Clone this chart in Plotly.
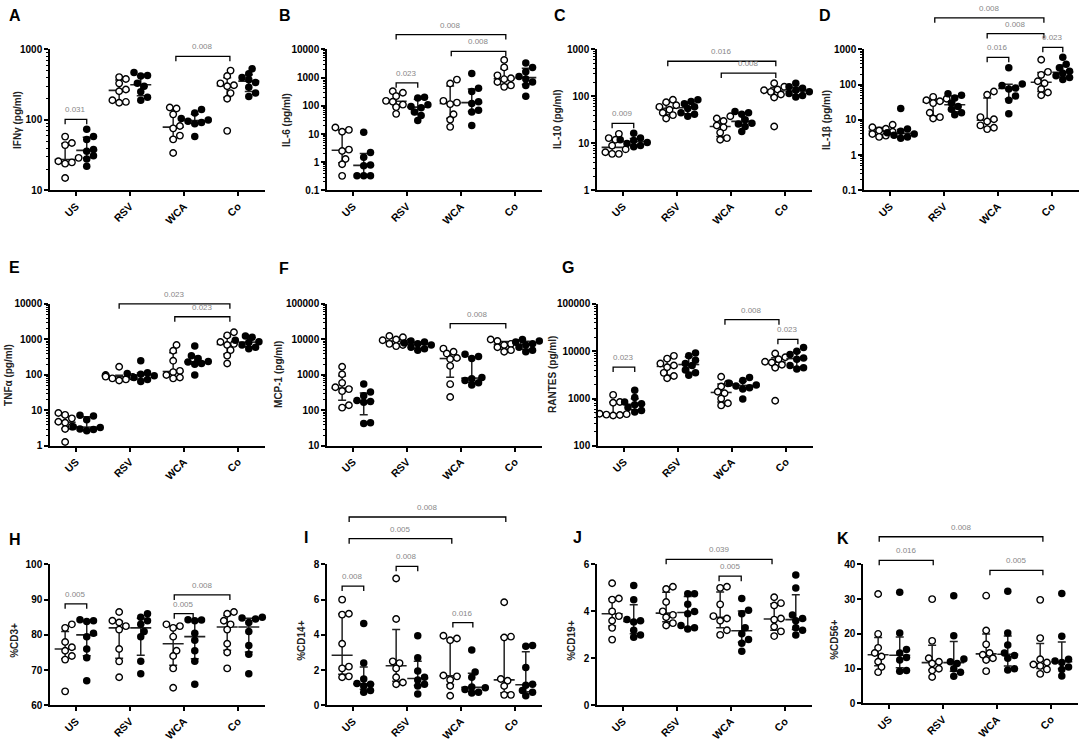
import numpy as np
import plotly.graph_objects as go

W, H = 1084, 743
groups = ["US", "RSV", "WCA", "Co"]

# each list: [US, RSV, WCA, Co], open = first condition, filled = second condition
ifng_open = [[58, 47, 44, 29, 26, 25, 24, 15], [405, 380, 330, 270, 255, 190, 180, 175],
             [150, 145, 120, 82, 76, 60, 53, 34], [500, 420, 330, 310, 300, 240, 200, 70]]
ifng_filled = [[74, 58, 53, 38, 36, 31, 28, 22], [470, 425, 420, 330, 300, 250, 210, 190],
               [140, 125, 105, 100, 96, 92, 88, 58], [530, 450, 400, 370, 340, 290, 240, 215]]

il6_open = [[17, 14, 12, 2.8, 2.5, 1.3, 0.85, 0.33], [330, 290, 220, 150, 140, 110, 90, 52],
            [850, 620, 150, 130, 115, 50, 32, 18], [4200, 2300, 1200, 950, 880, 700, 530, 470]]
il6_filled = [[11.5, 2.2, 1.5, 0.8, 0.75, 0.33, 0.33, 0.33], [200, 190, 110, 95, 85, 60, 45, 30],
              [1400, 420, 320, 140, 120, 70, 60, 20], [3300, 2300, 1600, 1100, 900, 700, 520, 220]]

il10_open = [[16, 13, 12, 9, 7.5, 6.5, 6, 6], [85, 75, 65, 60, 52, 45, 40, 34],
             [38, 34, 30, 24, 22, 17, 13, 12], [190, 160, 140, 135, 125, 110, 95, 23]]
il10_filled = [[16.5, 13, 12, 11.5, 10.5, 10, 9, 8.5], [85, 78, 70, 60, 55, 45, 42, 38],
               [48, 45, 42, 32, 27, 26, 23, 18], [190, 160, 150, 135, 125, 115, 105, 97]]

il1b_open = [[7.3, 6.2, 5.6, 5, 4.6, 4, 3.6, 3.3], [45, 40, 36, 34, 30, 16, 12, 11],
             [64, 52, 12, 10.5, 9, 7, 6, 5.5], [510, 230, 190, 125, 110, 75, 60, 50]]
il1b_filled = [[21, 5.5, 4.8, 4.3, 4, 3.7, 3.3, 3], [55, 50, 42, 30, 24, 20, 16, 14],
               [300, 105, 95, 80, 75, 48, 36, 15], [600, 380, 300, 240, 210, 180, 160, 140]]

tnfa_open = [[8.5, 7.5, 6, 4.8, 4.5, 3.5, 3, 1.3], [170, 100, 95, 90, 88, 80, 75, 70],
             [700, 480, 250, 130, 120, 100, 85, 80], [1600, 1300, 850, 750, 700, 500, 350, 210]]
tnfa_filled = [[7.3, 7, 5.5, 3.5, 3.3, 3, 2.9, 2.7], [250, 115, 110, 105, 95, 85, 75, 65],
               [650, 350, 290, 240, 230, 210, 200, 100], [1250, 1150, 950, 860, 820, 700, 600, 550]]

mcp1_open = [[1700, 1050, 600, 450, 400, 350, 140, 120], [12500, 11500, 10000, 9500, 8500, 7500, 7000, 6500],
             [5500, 4500, 4000, 3000, 2800, 1800, 550, 240], [10000, 9000, 8000, 7500, 7000, 6000, 5000, 4500]]
mcp1_filled = [[560, 330, 260, 190, 180, 170, 45, 43], [9000, 8500, 8000, 7500, 7000, 6000, 5500, 5000],
               [3800, 3300, 2900, 850, 780, 700, 600, 520], [10000, 9000, 8500, 7500, 7000, 6000, 5000, 4500]]

rantes_open = [[1200, 850, 820, 480, 470, 460, 450, 440], [8000, 7000, 5500, 5000, 4600, 3500, 3000, 2700],
               [2900, 2100, 1800, 1400, 1300, 1000, 800, 720], [9000, 7500, 6800, 6000, 5800, 5200, 4500, 900]]
rantes_filled = [[1500, 1050, 850, 780, 740, 650, 560, 520], [9200, 8000, 6500, 5500, 5000, 4000, 3500, 3100],
                 [2800, 2400, 2100, 1950, 1850, 1700, 1600, 980], [12000, 10000, 8500, 7200, 6800, 5000, 4500, 4200]]

cd3_open = [[83, 82, 78, 76.5, 75.5, 74, 73, 64], [86.5, 84, 83.5, 82.5, 81.5, 76, 72.5, 68],
            [83, 82.5, 82, 79.5, 75.5, 74, 70.5, 65], [86.5, 86, 84, 83, 81.5, 77.5, 75, 70.5]]
cd3_filled = [[84.3, 84, 83.8, 80.5, 79.5, 76, 73.5, 67], [86, 85, 84, 83, 81, 79.5, 72.5, 69],
              [84.3, 84.2, 84, 80.5, 78.5, 75.5, 72.5, 66], [85, 84.8, 84.5, 83.5, 81, 77, 74.5, 69]]

cd14_open = [[6, 5.2, 5.15, 3.5, 2.2, 2.1, 1.65, 1.6], [7.2, 4.9, 2.5, 2.4, 2.1, 1.6, 1.3, 1.2],
             [3.95, 3.8, 3.7, 1.7, 1.65, 1.45, 1.1, 0.55], [5.85, 3.9, 3.85, 1.5, 1.4, 1.1, 0.6, 0.6]]
cd14_filled = [[4.65, 2.4, 1.5, 1.25, 1.2, 1.1, 0.85, 0.75], [3.95, 2.7, 1.95, 1.6, 1.45, 1.2, 1.1, 0.65],
               [3.15, 1.9, 1.6, 1.05, 1.0, 0.9, 0.75, 0.7], [3.4, 3.35, 2.15, 1.2, 1.15, 0.85, 0.75, 0.55]]

cd19_open = [[5.2, 4.55, 4.5, 4.0, 3.8, 3.6, 3.3, 2.8], [5.05, 4.95, 4.4, 4.0, 3.85, 3.75, 3.5, 3.4],
             [5.05, 5.0, 4.3, 3.8, 3.7, 3.6, 3.2, 3.0], [4.6, 4.35, 4.25, 3.7, 3.65, 3.35, 3.15, 2.95]]
cd19_filled = [[5.1, 4.5, 3.65, 3.6, 3.55, 3.2, 3.0, 2.9], [4.75, 4.75, 4.3, 4.0, 3.9, 3.4, 3.3, 3.25],
               [4.55, 4.05, 3.9, 3.3, 3.05, 2.8, 2.65, 2.3], [5.55, 5.0, 3.85, 3.7, 3.6, 3.3, 3.2, 3.0]]

cd56_open = [[31.5, 20, 16, 14.5, 13.5, 12, 10.5, 9], [30, 18, 13, 12, 11.5, 10, 9.5, 7.6],
             [31, 21, 17, 14.5, 14, 13, 12.5, 9.3], [29.8, 18.8, 12.7, 11.8, 11.2, 10.8, 9.8, 8.5]]
cd56_filled = [[32, 20.3, 15.5, 14.5, 13.2, 12.5, 9.5, 9.3], [31, 19.5, 12.8, 12, 11.5, 10, 9, 7.8],
               [32.3, 20.3, 16.8, 14.5, 13.8, 13, 10, 9.6], [31.6, 19.3, 12.7, 12.2, 11.8, 10.5, 9.8, 7.9]]

# panel layout: pixel boxes, axis setup and significance brackets (x0, x1, y px, label)
panels = [
    dict(letter="A", title="IFNγ (pg/ml)", o=ifng_open, f=ifng_filled, log=True, rng=(1, 3), left=50, top=45, bot=188,
         lab=(7, 11), tx=18, br=[(0.8, 1.2, 116, "0.031"), (2.85, 3.85, 52, "0.008")]),
    dict(letter="B", title="IL-6 (pg/ml)", o=il6_open, f=il6_filled, log=True, rng=(-1, 4), left=327, top=45, bot=188,
         lab=(277, 11), tx=287, br=[(1.8, 2.2, 79, "0.023"), (1.8, 3.83, 30, "0.008"), (2.82, 3.83, 47, "0.008")]),
    dict(letter="C", title="IL-10 (pg/ml)", o=il10_open, f=il10_filled, log=True, rng=(0, 3), left=597, top=45, bot=188,
         lab=(552, 11), tx=558, br=[(0.8, 1.2, 120, "0.009"), (1.83, 3.83, 57, "0.016"), (2.82, 3.83, 69, "0.008")]),
    dict(letter="D", title="IL-1β (pg/ml)", o=il1b_open, f=il1b_filled, log=True, rng=(-1, 3), left=864, top=45, bot=188,
         lab=(817, 11), tx=827, br=[(1.83, 3.85, 13, "0.008"), (2.8, 3.85, 29, "0.008"), (2.8, 3.2, 53, "0.016"),
                                    (3.83, 4.2, 43, "0.023")]),
    dict(letter="E", title="TNFα (pg/ml)", o=tnfa_open, f=tnfa_filled, log=True, rng=(0, 4), left=50, top=303, bot=447,
         lab=(7, 266), tx=9, br=[(1.8, 3.85, 303, "0.023"), (2.83, 3.85, 316, "0.023")]),
    dict(letter="F", title="MCP-1 (pg/ml)", o=mcp1_open, f=mcp1_filled, log=True, rng=(1, 5), left=327, top=303, bot=447,
         lab=(277, 267), tx=279, br=[(2.8, 3.83, 323, "0.008")]),
    dict(letter="G", title="RANTES (pg/ml)", o=rantes_open, f=rantes_filled, log=True, rng=(2, 5), left=598, top=303,
         bot=447, lab=(560, 266), tx=553,
         br=[(0.8, 1.2, 367, "0.023"), (2.87, 3.87, 319, "0.008"), (3.85, 4.22, 339, "0.023")]),
    dict(letter="H", title="%CD3+", o=cd3_open, f=cd3_filled, log=False, rng=(60, 100), dt=10, left=50, top=567, bot=710,
         lab=(7, 542), tx=15, br=[(0.8, 1.2, 607, "0.005"), (2.82, 3.85, 598, "0.008"), (2.82, 3.17, 617, "0.005")]),
    dict(letter="I", title="%CD14+", o=cd14_open, f=cd14_filled, log=False, rng=(0, 8), dt=2, left=327, top=567, bot=710,
         lab=(302, 540), tx=302, br=[(0.8, 1.2, 589, "0.008"), (1.8, 2.2, 569, "0.008"), (2.85, 3.22, 626, "0.016"),
                                     (0.93, 2.83, 541, "0.005"), (0.93, 3.83, 519, "0.008")]),
    dict(letter="J", title="%CD19+", o=cd19_open, f=cd19_filled, log=False, rng=(0, 6), dt=2, left=597, top=567, bot=710,
         lab=(571, 540), tx=572, br=[(1.8, 3.76, 562, "0.039"), (2.78, 3.19, 579, "0.005")]),
    dict(letter="K", title="%CD56+", o=cd56_open, f=cd56_filled, log=False, rng=(0, 40), dt=10, left=863, top=567,
         bot=708, lab=(835, 541), tx=835, br=[(0.82, 3.85, 539, "0.008"), (0.82, 1.82, 563, "0.016"),
                                              (2.87, 3.85, 573, "0.005")]),
]

FONT = "Liberation Sans, Arial, sans-serif"
XR = (0.52, 4.5)
AXW = 215
PX_PER_X = AXW / (XR[1] - XR[0])
MS = 6.5


def py(y):
    return 1 - y / H


def swarm(ypix, d=MS + 1):
    # simple beeswarm: nudge points sideways when they would sit on top of each other
    order = np.argsort(ypix)
    placed = []
    offs = np.zeros(len(ypix))
    cands = [0]
    for k in range(1, 5):
        cands += [k * 0.45 * d, -k * 0.45 * d]
    for i in order:
        best = cands[-1]
        for c in cands:
            if all((c - px) ** 2 + (ypix[i] - pyy) ** 2 >= (0.8 * d) ** 2 for px, pyy in placed):
                best = c
                break
        offs[i] = best
        placed.append((best, ypix[i]))
    return offs / PX_PER_X


def tick_text(v, log):
    if log and v < 1:
        return f"{v:.1f}"
    return f"{int(round(v))}"


fig = go.Figure()

for n, p in enumerate(panels, start=1):
    xa = "x" if n == 1 else f"x{n}"
    ya = "y" if n == 1 else f"y{n}"
    lo, hi = p["rng"]
    hpx = p["bot"] - p["top"]

    for cond, data, off in (("open", p["o"], -0.2), ("filled", p["f"], 0.2)):
        for g, vals in enumerate(data, start=1):
            vals = np.array(vals, dtype=float)
            xc = g + off
            med = np.median(vals)
            q1, q3 = np.percentile(vals, [25, 75], method="weibull")
            fig.add_trace(go.Scatter(
                x=[xc], y=[med], mode="markers", xaxis=xa, yaxis=ya, showlegend=False, hoverinfo="skip",
                marker=dict(symbol="line-ew", size=15, line=dict(color="#222", width=1.6)),
                error_y=dict(type="data", symmetric=False, array=[q3 - med], arrayminus=[med - q1],
                             width=4, thickness=1.5, color="#222")
            ))
            if p["log"]:
                ypix = (np.log10(vals) - lo) / (hi - lo) * hpx
            else:
                ypix = (vals - lo) / (hi - lo) * hpx
            xs = xc + swarm(ypix)
            if cond == "open":
                mk = dict(symbol="circle", size=MS, color="white", line=dict(color="black", width=1.4))
            else:
                mk = dict(symbol="circle", size=MS + 1, color="black", line=dict(width=0))
            fig.add_trace(go.Scatter(
                x=xs, y=vals, mode="markers", xaxis=xa, yaxis=ya, showlegend=False,
                marker=mk, cliponaxis=False
            ))

    if p["log"]:
        tv = [10.0 ** k for k in range(lo, hi + 1)]
    else:
        tv = list(range(lo, hi + 1, p["dt"]))

    xdom = [p["left"] / W, (p["left"] + AXW) / W]
    ydom = [py(p["bot"]), py(p["top"])]
    fig.update_layout(**{
        ("xaxis" if n == 1 else f"xaxis{n}"): dict(
            domain=xdom, anchor=ya, range=list(XR), tickvals=[1, 2, 3, 4], ticktext=groups,
            tickangle=-45, ticks="outside", ticklen=4, tickwidth=1.5, tickcolor="black",
            showline=True, linewidth=1.5, linecolor="black", showgrid=False, zeroline=False,
            tickfont=dict(family=FONT, size=10.5, color="black", weight="bold")
        ),
        ("yaxis" if n == 1 else f"yaxis{n}"): dict(
            domain=ydom, anchor=xa, type="log" if p["log"] else "linear",
            range=[lo, hi], tickvals=tv, ticktext=[tick_text(v, p["log"]) for v in tv],
            ticks="outside", ticklen=4, tickwidth=1.5, tickcolor="black",
            showline=True, linewidth=1.5, linecolor="black", showgrid=False, zeroline=False,
            tickfont=dict(family=FONT, size=10, color="black", weight="bold"),
            minor=dict(ticks="outside", ticklen=2, tickwidth=1, tickcolor="black", showgrid=False,
                       dtick="D1") if p["log"] else None
        ),
    })

    fig.add_annotation(x=p["lab"][0] / W, y=py(p["lab"][1]), xref="paper", yref="paper", text=p["letter"],
                       showarrow=False, xanchor="left", yanchor="middle",
                       font=dict(family=FONT, size=16, color="black", weight="bold"))

    ymid = (p["top"] + p["bot"]) / 2 + (6 if not p["log"] else 0)
    fig.add_annotation(x=p["tx"] / W, y=py(ymid), xref="paper", yref="paper", text=p["title"],
                       showarrow=False, textangle=-90, xanchor="center", yanchor="middle",
                       font=dict(family=FONT, size=10, color="#222", weight="bold"))

    for x0, x1, ypx, txt in p["br"]:
        fig.add_shape(type="path", xref=xa, yref="paper",
                      path=f"M {x0},{py(ypx + 5)} L {x0},{py(ypx)} L {x1},{py(ypx)} L {x1},{py(ypx + 5)}",
                      line=dict(color="black", width=1.3))
        fig.add_annotation(x=(x0 + x1) / 2, y=py(ypx - 3), xref=xa, yref="paper", text=txt, showarrow=False,
                           xanchor="center", yanchor="bottom",
                           font=dict(family=FONT, size=8, color="#888"))

fig.update_layout(
    width=W, height=H,
    margin=dict(l=0, r=0, t=0, b=0),
    paper_bgcolor="white", plot_bgcolor="white",
    showlegend=False,
)

fig.write_html("out.html", config={"displayModeBar": False},
               post_script="document.body.style.margin='0';")
